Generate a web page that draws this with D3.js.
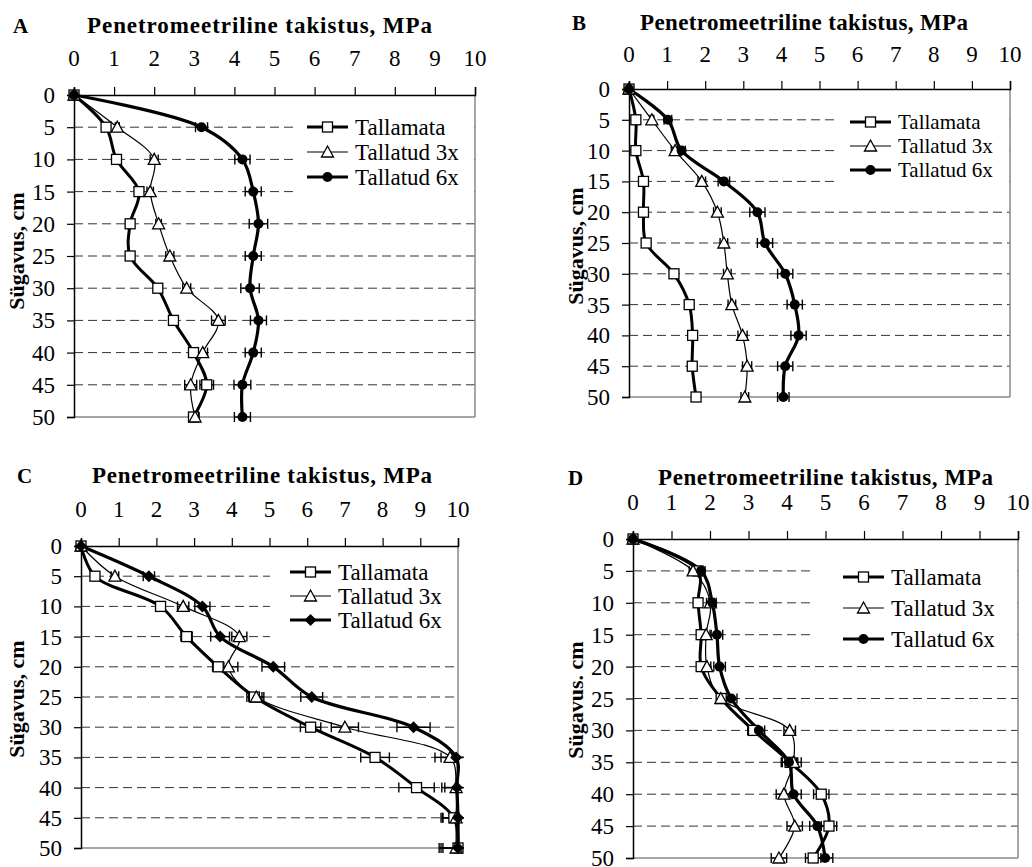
<!DOCTYPE html>
<meta charset="UTF-8">
<head>
<script src="https://d3js.org/d3.v7.min.js"></script>
<style>
  body { margin: 0; background: #fff; }
</style>
</head>
<body>
<svg id="svg" width="1032" height="867" font-family="Liberation Serif, Times New Roman, serif"></svg>
<script>
const FONT = "Liberation Serif, Times New Roman, serif";

// depth (cm) and x ticks (MPa)
const depths = [0, 5, 10, 15, 20, 25, 30, 35, 40, 45, 50];
const xTicks = [0, 1, 2, 3, 4, 5, 6, 7, 8, 9, 10];
const yTicks = [0, 5, 10, 15, 20, 25, 30, 35, 40, 45, 50];
const seriesNames = ["Tallamata", "Tallatud 3x", "Tallatud 6x"];

// A
const aTallamata = [0, 0.80, 1.06, 1.62, 1.40, 1.40, 2.09, 2.48, 2.98, 3.31, 2.98];
const aTallatud3 = [0, 1.08, 2.00, 1.90, 2.11, 2.39, 2.81, 3.60, 3.21, 2.91, 3.02];
const aTallatud6 = [0, 3.18, 4.20, 4.47, 4.60, 4.47, 4.39, 4.60, 4.47, 4.20, 4.20];
const aErr0 = [0, 0.05, 0.05, 0.08, 0.05, 0.05, 0.07, 0.08, 0.10, 0.17, 0.10];
const aErr3 = [0, 0.05, 0.10, 0.08, 0.07, 0.10, 0.10, 0.17, 0.12, 0.15, 0.10];
const aErr6 = [0, 0.15, 0.19, 0.20, 0.23, 0.20, 0.23, 0.20, 0.20, 0.21, 0.20];

// B
const bTallamata = [0, 0.18, 0.18, 0.38, 0.38, 0.45, 1.18, 1.58, 1.67, 1.66, 1.76];
const bTallatud3 = [0, 0.60, 1.21, 1.91, 2.32, 2.49, 2.58, 2.70, 2.98, 3.10, 3.04];
const bTallatud6 = [0, 1.02, 1.38, 2.49, 3.37, 3.57, 4.10, 4.35, 4.45, 4.10, 4.05];
const bErr0 = [0, 0.03, 0.03, 0.05, 0.05, 0.05, 0.06, 0.07, 0.07, 0.07, 0.10];
const bErr3 = [0, 0.05, 0.10, 0.10, 0.10, 0.10, 0.10, 0.10, 0.12, 0.12, 0.10];
const bErr6 = [0, 0.10, 0.10, 0.15, 0.20, 0.20, 0.20, 0.20, 0.20, 0.20, 0.15];

// C
const cTallamata = [0, 0.37, 2.11, 2.80, 3.64, 4.60, 6.09, 7.80, 8.90, 9.89, 10.0];
const cTallatud3 = [0, 0.90, 2.71, 4.20, 3.91, 4.65, 7.00, 9.79, 9.95, 9.95, 9.95];
const cTallatud6 = [0, 1.80, 3.22, 3.69, 5.10, 6.12, 8.82, 9.95, 9.97, 10.0, 10.0];
const cErr0 = [0, 0.10, 0.10, 0.15, 0.15, 0.20, 0.27, 0.38, 0.47, 0.30, 0.40];
const cErr3 = [0, 0.10, 0.15, 0.20, 0.25, 0.20, 0.36, 0.40, 0.30, 0.40, 0.40];
const cErr6 = [0, 0.15, 0.20, 0.25, 0.30, 0.29, 0.44, 0.40, 0.40, 0.40, 0.50];

// D
const dTallamata = [0, 1.69, 1.69, 1.77, 1.77, 2.29, 3.13, 4.08, 4.89, 5.09, 4.68];
const dTallatud3 = [0, 1.56, 2.01, 1.90, 1.92, 2.28, 4.07, 4.17, 3.92, 4.20, 3.79];
const dTallatud6 = [0, 1.77, 2.06, 2.18, 2.25, 2.55, 3.27, 4.05, 4.17, 4.79, 4.99];
const dErr0 = [0, 0.10, 0.10, 0.10, 0.10, 0.10, 0.15, 0.20, 0.20, 0.20, 0.20];
const dErr3 = [0, 0.10, 0.10, 0.10, 0.10, 0.10, 0.15, 0.20, 0.20, 0.20, 0.20];
const dErr6 = [0, 0.10, 0.10, 0.15, 0.15, 0.15, 0.15, 0.20, 0.20, 0.20, 0.20];

const panels = [
  {letter: "A", ylab: "Sügavus, cm", x0: 74, x1: 475, y0: 95, y1: 417,
   letterX: 13, titleX: 87, titleW: 345, titleY: 33, tickY: 66, ylabX: 24, ylabY: 251,
   legX: 307, legY: 127, legDy: 25, legFs: 23, legBg: [297, 96, 177, 104], mark6: "circle",
   vals: [aTallamata, aTallatud3, aTallatud6], errs: [aErr0, aErr3, aErr6]},
  {letter: "B", ylab: "Sügavus, cm", x0: 629, x1: 1010, y0: 89, y1: 397,
   letterX: 572, titleX: 640, titleW: 328, titleY: 30, tickY: 62, ylabX: 583, ylabY: 246,
   legX: 850, legY: 122, legDy: 24, legFs: 21, legBg: [836, 90, 173, 105], mark6: "circle",
   vals: [bTallamata, bTallatud3, bTallatud6], errs: [bErr0, bErr3, bErr6]},
  {letter: "C", ylab: "Sügavus, cm", x0: 81, x1: 458, y0: 546, y1: 848,
   letterX: 17, titleX: 92, titleW: 340, titleY: 483, tickY: 517, ylabX: 24, ylabY: 699,
   legX: 290, legY: 572, legDy: 24, legFs: 23, legBg: [270, 547, 187, 103], mark6: "diamond",
   vals: [cTallamata, cTallatud3, cTallatud6], errs: [cErr0, cErr3, cErr6]},
  {letter: "D", ylab: "Sügavus. cm", x0: 633, x1: 1018, y0: 539, y1: 858,
   letterX: 568, titleX: 658, titleW: 335, titleY: 485, tickY: 510, ylabX: 583, ylabY: 700,
   legX: 843, legY: 577, legDy: 31, legFs: 23, legBg: [812, 540, 205, 110], mark6: "circle",
   vals: [dTallamata, dTallatud3, dTallatud6], errs: [dErr0, dErr3, dErr6]}
];

const svg = d3.select("#svg");
const lineW = [3, 1.2, 3.2];

function txt(g) {
  return g.append("text").attr("font-family", FONT).attr("fill", "#000");
}

function marker(g, kind, x, y) {
  if (kind === "square") {
    g.append("rect").attr("x", x - 5).attr("y", y - 5).attr("width", 10).attr("height", 10)
      .attr("fill", "#fff").attr("stroke", "#000").attr("stroke-width", 1.3);
  } else if (kind === "triangle") {
    g.append("path").attr("d", `M${x},${y - 6}L${x + 6},${y + 5}L${x - 6},${y + 5}Z`)
      .attr("fill", "#fff").attr("stroke", "#000").attr("stroke-width", 1.3);
  } else if (kind === "circle") {
    g.append("circle").attr("cx", x).attr("cy", y).attr("r", 5).attr("fill", "#000");
  } else {
    g.append("path").attr("d", `M${x},${y - 6}L${x + 6},${y}L${x},${y + 6}L${x - 6},${y}Z`)
      .attr("fill", "#000");
  }
}

panels.forEach(p => {
  const g = svg.append("g");
  const x = d3.scaleLinear().domain([0, 10]).range([p.x0, p.x1]);
  const y = d3.scaleLinear().domain([0, 50]).range([p.y0, p.y1]);
  const marks = ["square", "triangle", p.mark6];

  // gridlines
  g.selectAll(".grid").data(yTicks.filter(d => d > 0 && d < 50)).enter().append("line")
    .attr("x1", p.x0).attr("x2", p.x1).attr("y1", d => y(d)).attr("y2", d => y(d))
    .attr("stroke", "#333").attr("stroke-width", 1).attr("stroke-dasharray", "9,5");

  // legend background covers grid
  g.append("rect").attr("x", p.legBg[0]).attr("y", p.legBg[1])
    .attr("width", p.legBg[2]).attr("height", p.legBg[3]).attr("fill", "#fff");

  // frame
  g.append("line").attr("x1", p.x1).attr("x2", p.x1).attr("y1", p.y0).attr("y2", p.y1)
    .attr("stroke", "#888").attr("stroke-width", 1.5);
  g.append("line").attr("x1", p.x0).attr("x2", p.x1).attr("y1", p.y1).attr("y2", p.y1)
    .attr("stroke", "#888").attr("stroke-width", 1.5);

  // top axis
  const top = g.append("g").attr("transform", `translate(0,${p.y0})`)
    .call(d3.axisTop(x).tickValues(xTicks).tickSize(8).tickFormat(""));
  top.select(".domain").attr("stroke", "#000").attr("stroke-width", 1.5);
  top.selectAll(".tick line").attr("stroke", "#000").attr("stroke-width", 1.2);
  xTicks.forEach(d => {
    txt(g).attr("x", x(d)).attr("y", p.tickY).attr("text-anchor", "middle")
      .attr("font-size", 23).text(d);
  });

  // left axis
  const left = g.append("g").attr("transform", `translate(${p.x0},0)`)
    .call(d3.axisLeft(y).tickValues(yTicks).tickSize(7).tickFormat(""));
  left.select(".domain").attr("stroke", "#000").attr("stroke-width", 1.5);
  left.selectAll(".tick line").attr("stroke", "#000").attr("stroke-width", 1.2);
  yTicks.forEach(d => {
    txt(g).attr("x", p.x0 - 19).attr("y", y(d)).attr("dy", "0.35em").attr("text-anchor", "end")
      .attr("font-size", 23).text(d);
  });

  // titles
  txt(g).attr("x", p.letterX).attr("y", p.titleY).attr("font-size", 21)
    .attr("font-weight", "bold").text(p.letter);
  txt(g).attr("x", p.titleX).attr("y", p.titleY).attr("font-size", 23)
    .attr("font-weight", "bold").attr("textLength", p.titleW).attr("lengthAdjust", "spacing")
    .text("Penetromeetriline takistus, MPa");
  txt(g).attr("transform", `translate(${p.ylabX},${p.ylabY}) rotate(-90)`)
    .attr("text-anchor", "middle").attr("font-size", 22).attr("font-weight", "bold")
    .text(p.ylab);

  // series
  const line = d3.line().curve(d3.curveCatmullRom.alpha(0.5))
    .x(d => x(d[0])).y(d => y(d[1]));
  p.vals.forEach((vals, si) => {
    const pts = vals.map((v, i) => [v, depths[i]]);
    g.append("path").attr("d", line(pts)).attr("fill", "none")
      .attr("stroke", "#000").attr("stroke-width", lineW[si]);
  });
  p.vals.forEach((vals, si) => {
    vals.forEach((v, i) => {
      const e = p.errs[si][i];
      if (depths[i] === 0 || e === 0) return;
      const yy = y(depths[i]);
      const lo = x(v - e), hiRaw = v + e;
      const hi = x(Math.min(hiRaw, 10.15));
      g.append("line").attr("x1", lo).attr("x2", hi).attr("y1", yy).attr("y2", yy)
        .attr("stroke", "#000").attr("stroke-width", 1.4);
      g.append("line").attr("x1", lo).attr("x2", lo).attr("y1", yy - 5).attr("y2", yy + 5)
        .attr("stroke", "#000").attr("stroke-width", 1.4);
      if (hiRaw <= 10.15)
        g.append("line").attr("x1", hi).attr("x2", hi).attr("y1", yy - 5).attr("y2", yy + 5)
          .attr("stroke", "#000").attr("stroke-width", 1.4);
    });
  });
  p.vals.forEach((vals, si) => {
    vals.forEach((v, i) => marker(g, marks[si], x(v), y(depths[i])));
  });

  // legend
  seriesNames.forEach((name, si) => {
    const ly = p.legY + si * p.legDy;
    g.append("line").attr("x1", p.legX).attr("x2", p.legX + 41).attr("y1", ly).attr("y2", ly)
      .attr("stroke", "#000").attr("stroke-width", lineW[si]);
    marker(g, marks[si], p.legX + 20.5, ly);
    txt(g).attr("x", p.legX + 48).attr("y", ly).attr("dy", "0.35em")
      .attr("font-size", p.legFs).text(name);
  });
});
</script>
</body>
